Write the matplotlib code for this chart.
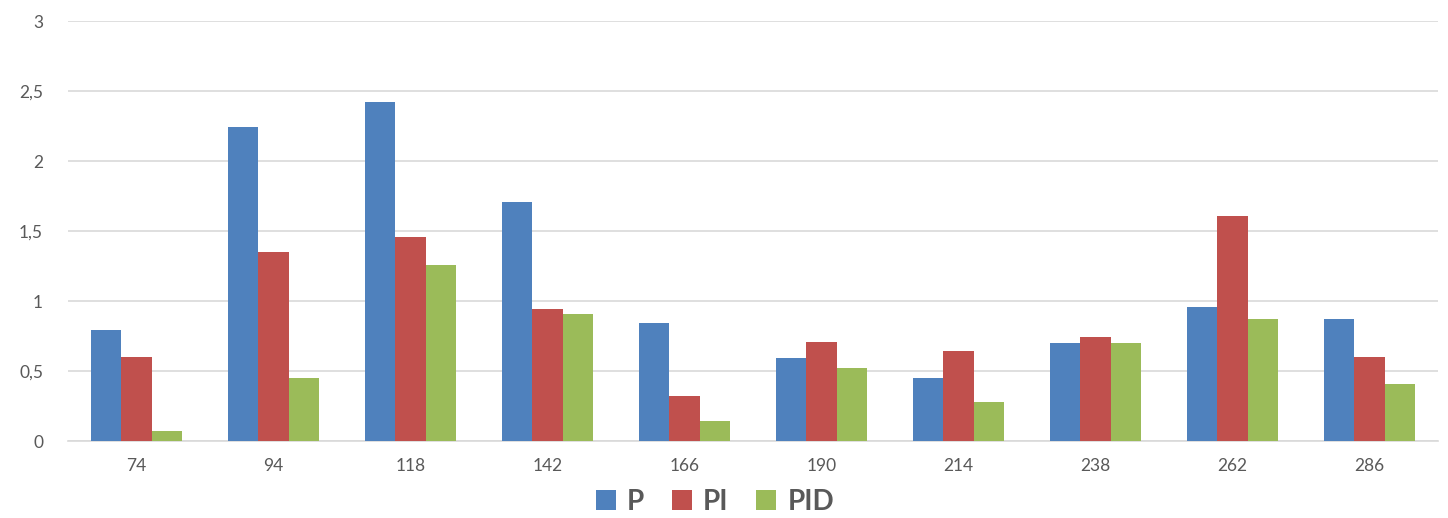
import numpy as np
import matplotlib.pyplot as plt
from matplotlib.patches import Patch
from matplotlib.ticker import FuncFormatter

categories = ["74", "94", "118", "142", "166", "190", "214", "238", "262", "286"]
p_values = [0.79, 2.24, 2.42, 1.71, 0.84, 0.59, 0.45, 0.70, 0.96, 0.87]
pi_values = [0.60, 1.35, 1.46, 0.94, 0.32, 0.71, 0.64, 0.74, 1.61, 0.60]
pid_values = [0.07, 0.45, 1.26, 0.91, 0.14, 0.52, 0.28, 0.70, 0.87, 0.41]
series_names = ["P", "PI", "PID"]
colors = ["#4F81BD", "#C0504D", "#9BBB59"]

plt.rcParams["font.family"] = ["Lato", "DejaVu Sans"]

fig = plt.figure(figsize=(14.48, 5.18), dpi=100)
ax = fig.add_axes([68 / 1448, 1 - 441 / 518, (1438 - 68) / 1448, 420 / 518])

x = np.arange(len(categories))
w = 0.222
for i, (vals, c) in enumerate(zip([p_values, pi_values, pid_values], colors)):
    ax.bar(x + (i - 1) * w, vals, width=w, color=c, zorder=3)

ax.set_xlim(-0.5, len(categories) - 0.5)
ax.set_ylim(0, 3)
ax.set_yticks(np.arange(0, 3.01, 0.5))
ax.yaxis.set_major_formatter(FuncFormatter(lambda v, _: f"{v:g}".replace(".", ",")))
ax.set_xticks(x)
ax.set_xticklabels(categories)

ax.grid(axis="y", color="#D9D9D9", linewidth=1.2, zorder=0)
for s in ["top", "right", "left"]:
    ax.spines[s].set_visible(False)
ax.spines["bottom"].set_color("#D9D9D9")
ax.spines["bottom"].set_linewidth(1.2)
ax.tick_params(axis="both", length=0, labelsize=12.5, labelcolor="#595959")
ax.tick_params(axis="y", pad=18)
ax.tick_params(axis="x", pad=12)

handles = [Patch(facecolor=c, edgecolor="none") for c in colors]
leg = fig.legend(handles, series_names, loc="center", bbox_to_anchor=(715 / 1448, 1 - 502 / 518),
                 ncol=3, frameon=False, handlelength=0.72, handleheight=0.72,
                 handletextpad=0.4, columnspacing=1.0,
                 prop={"size": 20, "weight": "bold"})
for t in leg.get_texts():
    t.set_color("#595959")

fig.savefig("out.png", dpi=100)
